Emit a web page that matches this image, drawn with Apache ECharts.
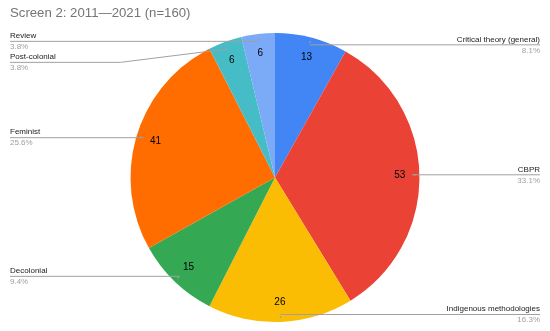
<!DOCTYPE html>
<html><head><meta charset="utf-8">
<script src="https://cdn.jsdelivr.net/npm/echarts@6/dist/echarts.min.js"></script>
<style>html,body{margin:0;padding:0;background:#fff}#c{width:550px;height:331px}</style>
</head><body><div id="c"></div>
<script>
const titleText = 'Screen 2: 2011\u20142021 (n=160)';
const categories = ['Critical theory (general)','CBPR','Indigenous methodologies','Decolonial','Feminist','Post-colonial','Review'];
const counts = [13,53,26,15,41,6,6];
const colors = ['#4285F4','#EA4335','#FBBC04','#34A853','#FF6D01','#46BDC6','#7BAAF7'];

const total = counts.reduce((a,b)=>a+b,0);
const data = categories.map((n,i)=>({name:n, value:counts[i]}));
const clear = {color:'rgba(0,0,0,0)'};
const CX = 275, CY = 177.5, R = 144.5, W = 550, FONT = 'Liberation Sans, Arial, sans-serif';
const pct = v => (Math.round(v*1000/total)/10).toFixed(1) + '%';

const chart = echarts.init(document.getElementById('c'), null, {renderer:'canvas'});
const option = {
  animation:false,
  title:{text:titleText, left:10, top:7, padding:0, textStyle:{fontFamily:FONT, fontSize:13.2, fontWeight:'normal', color:'#757575'}},
  series:[
    {type:'pie', z:1, center:[CX,CY], radius:R, data, silent:true, color:colors,
     label:{show:false}, labelLine:{show:false}, emphasis:{disabled:true}},
    {type:'pie', z:3, center:[CX,CY], radius:[99,R], data, silent:true, itemStyle:clear,
     label:{position:'inside', formatter:'{c}', fontSize:10, color:'#000', fontFamily:FONT}, emphasis:{disabled:true}},
    {type:'pie', z:4, center:[CX,CY], radius:[129,R], data, silent:true, itemStyle:clear,
     label:{position:'inside', formatter:'\u25CF', fontSize:4, color:'#9e9e9e', fontFamily:FONT}, emphasis:{disabled:true}},
    {type:'pie', z:3, center:[CX,CY], radius:137, data, silent:true, itemStyle:clear, emphasis:{disabled:true},
     label:{position:'outside', alignTo:'edge', edgeDistance:10, fontFamily:FONT,
       formatter: p => '{n|' + p.name + '}\n{p|' + pct(p.value) + '}',
       rich:{n:{fontSize:8, color:'#222', lineHeight:11, fontFamily:FONT}, p:{fontSize:8, color:'#a0a0a0', lineHeight:11, fontFamily:FONT}}},
     labelLine:{show:true, length:0.1, length2:10, lineStyle:{color:'#a0a0a0', width:1}},
     labelLayout: function(p){
       const pts = p.labelLinePoints;
       if (!pts) return {};
       const left = pts[0][0] < CX;
       const ex = left ? 10 : W - 10;
       const y = pts[pts.length-1][1];
       const dy = Math.abs(y - pts[0][1]);
       const mid = [pts[0][0] + (left ? -1 : 1) * dy * 8, y];
       return {x:ex, y:y, align:left?'left':'right', verticalAlign:'middle',
               labelLinePoints:[pts[0], mid, [ex, y]]};
     }}
  ]
};
chart.setOption(option);
</script></body></html>
